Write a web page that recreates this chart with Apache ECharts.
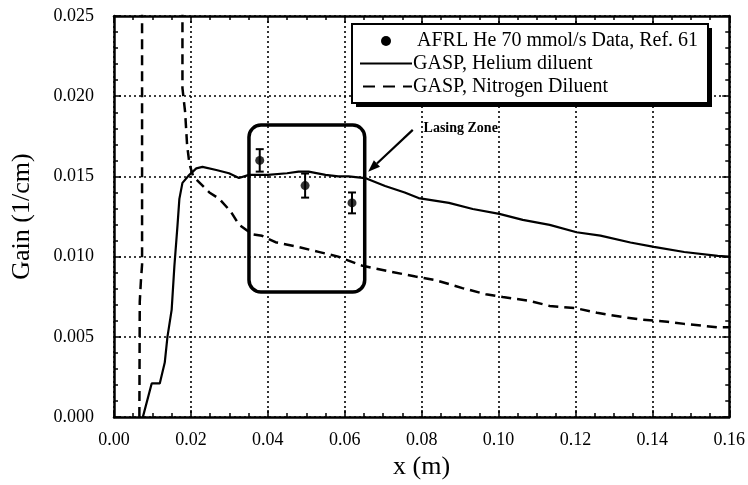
<!DOCTYPE html>
<html><head><meta charset="utf-8">
<script src="https://cdn.jsdelivr.net/npm/echarts@6/dist/echarts.min.js"></script>
<style>html,body{margin:0;padding:0;background:#fff}#c{width:748px;height:485px}</style>
</head><body><div id="c"></div>
<script>
// ---- data ----
const heliumX = [0.0075,0.0098,0.0119,0.0132,0.0139,0.0150,0.0157,0.0165,0.0170,0.0178,0.0196,0.0214,0.0230,0.0266,0.0299,0.0325,0.0351,0.0400,0.0450,0.0480,0.0506,0.0550,0.0583,0.0610,0.0653,0.0705,0.0756,0.0792,0.0871,0.0933,0.1002,0.1063,0.1133,0.1203,0.1265,0.1343,0.1404,0.1483,0.1570,0.1600];
const heliumY = [0.0000,0.0021,0.0021,0.0034,0.0050,0.0067,0.0094,0.0119,0.0136,0.0146,0.0151,0.0155,0.0156,0.0154,0.0152,0.0149,0.0151,0.0151,0.0152,0.0153,0.0153,0.0151,0.0150,0.0150,0.0149,0.0144,0.0140,0.01365,0.01335,0.01297,0.01267,0.01229,0.01198,0.01152,0.01131,0.01088,0.01061,0.01029,0.01005,0.0100];
const nitrogenX = [0.0066,0.0067,0.0070,0.0073,0.0073,0.0178,0.0178,0.0185,0.0190,0.0196,0.0206,0.0248,0.0274,0.0304,0.0325,0.0359,0.0385,0.0420,0.0480,0.0532,0.0583,0.0644,0.0714,0.0784,0.0836,0.0906,0.0967,0.1011,0.1081,0.1133,0.1203,0.1256,0.1326,0.1369,0.1439,0.1483,0.1570,0.1600];
const nitrogenY = [0.0000,0.0072,0.0085,0.0095,0.0270,0.0270,0.0205,0.0190,0.0170,0.0158,0.0150,0.0140,0.0136,0.0128,0.0120,0.0114,0.0113,0.0109,0.0106,0.0103,0.0100,0.00945,0.00909,0.00876,0.00854,0.00804,0.00766,0.00749,0.00724,0.00693,0.00678,0.0065,0.00623,0.00608,0.00594,0.00581,0.0056,0.0056];
const afrlX = [0.0379,0.0497,0.0619];
const afrlY = [0.0160,0.01443,0.01335];
const afrlErr = [0.0007,0.00075,0.00065];
const xTicks = [0,0.02,0.04,0.06,0.08,0.10,0.12,0.14,0.16];
const yTicks = [0,0.005,0.010,0.015,0.020,0.025];
// annotation (data coords): lasing box [x0,yTop,x1,yBottom], arrow tail/tip, label anchor
const lasingBox = [0.0351,0.0182,0.0652,0.0078];
const arrowTail = [0.0777,0.0179];
const arrowTip = [0.0661,0.0153];
const lasingLabelAt = [0.0805,0.0180];
const names = ['AFRL He 70 mmol/s Data, Ref. 61','GASP, Helium diluent','GASP, Nitrogen Diluent'];

const zip = (a,b)=>a.map((v,i)=>[v,b[i]]);
const FONT = '"Liberation Serif","Times New Roman",serif';
const chart = echarts.init(document.getElementById('c'));

const axisCommon = (isX, show, pos) => ({
  type:'value', position:pos,
  min: isX? xTicks[0] : yTicks[0],
  max: isX? xTicks[xTicks.length-1] : yTicks[yTicks.length-1],
  interval: isX? 0.02 : 0.005,
  axisLine:{show:true,onZero:false,lineStyle:{color:'#000',width:2.5}},
  axisTick:{show:true,inside:true,length:7,lineStyle:{color:'#000',width:1.5}},
  minorTick:{show:true,splitNumber:isX?4:5,length:4,lineStyle:{color:'#000',width:1.5}},
  splitLine:{show:show,lineStyle:{color:'#000',type:[2,3],width:1.6}},
  axisLabel:{show:show,color:'#000',fontFamily:FONT,fontSize:18,margin:isX?14:20,
    formatter:v=> isX? v.toFixed(2) : v.toFixed(3)}
});

const xMain = Object.assign(axisCommon(true,true,'bottom'),{name:'x (m)',nameLocation:'middle',nameGap:34,
  nameTextStyle:{color:'#000',fontFamily:FONT,fontSize:26}});
const yMain = Object.assign(axisCommon(false,true,'left'),{name:'Gain (1/cm)',nameLocation:'middle',nameGap:79,
  nameTextStyle:{color:'#000',fontFamily:FONT,fontSize:26}});

chart.setOption({
  animation:false,
  backgroundColor:'#fff',
  grid:{left:114,right:14,top:16,bottom:67},
  xAxis:[xMain, axisCommon(true,false,'top')],
  yAxis:[yMain, axisCommon(false,false,'right')],
  series:[
    {name:names[0],type:'scatter',data:zip(afrlX,afrlY),symbol:'circle',symbolSize:9,
      itemStyle:{color:'#000'},z:5},
    {name:names[1],type:'line',data:zip(heliumX,heliumY),showSymbol:false,symbol:'none',
      lineStyle:{color:'#000',width:2.2},itemStyle:{color:'#000'},z:3},
    {name:names[2],type:'line',data:zip(nitrogenX,nitrogenY),showSymbol:false,symbol:'none',
      lineStyle:{color:'#000',width:2.5,type:[10,6]},itemStyle:{color:'#000'},z:3},
    {name:'err',type:'custom',z:4,
      data:afrlX.map((x,i)=>[x,afrlY[i]-afrlErr[i],afrlY[i]+afrlErr[i]]),
      renderItem:(params,api)=>{
        const lo=api.coord([api.value(0),api.value(1)]);
        const hi=api.coord([api.value(0),api.value(2)]);
        const w=4;
        const st={stroke:'#000',lineWidth:2};
        return {type:'group',children:[
          {type:'line',shape:{x1:lo[0],y1:lo[1],x2:hi[0],y2:hi[1]},style:st},
          {type:'line',shape:{x1:lo[0]-w,y1:lo[1],x2:lo[0]+w,y2:lo[1]},style:st},
          {type:'line',shape:{x1:hi[0]-w,y1:hi[1],x2:hi[0]+w,y2:hi[1]},style:st}
        ]};
      }}
  ]
});

function drawAnnotations(){
  const p0 = chart.convertToPixel({gridIndex:0},[lasingBox[0],lasingBox[1]]);
  const p1 = chart.convertToPixel({gridIndex:0},[lasingBox[2],lasingBox[3]]);
  const t = chart.convertToPixel({gridIndex:0},arrowTail);
  const h = chart.convertToPixel({gridIndex:0},arrowTip);
  const l = chart.convertToPixel({gridIndex:0},lasingLabelAt);
  const ang = Math.atan2(h[1]-t[1],h[0]-t[0]);
  const L=12, W=4.5;
  const bx=h[0]-L*Math.cos(ang), by=h[1]-L*Math.sin(ang);
  const nx=-Math.sin(ang), ny=Math.cos(ang);
  // legend box (positioned like the original legend)
  const LX=352, LY=24, LW=356, LH=79;
  const rows=[41,63.5,86.5];
  const g=[
    {type:'rect',z:10,shape:{x:p0[0],y:p0[1],width:p1[0]-p0[0],height:p1[1]-p0[1],r:12},
      style:{fill:null,stroke:'#000',lineWidth:3.5}},
    {type:'line',z:10,shape:{x1:t[0],y1:t[1],x2:bx,y2:by},style:{stroke:'#000',lineWidth:2.2}},
    {type:'polygon',z:10,shape:{points:[[h[0],h[1]],[bx+nx*W,by+ny*W],[bx-nx*W,by-ny*W]]},style:{fill:'#000'}},
    {type:'text',z:10,x:l[0],y:l[1],style:{text:'Lasing Zone',fill:'#000',font:'bold 14px '+FONT,
      verticalAlign:'middle'}},
    {type:'rect',z:20,shape:{x:LX+4,y:LY+4,width:LW,height:LH},style:{fill:'#000'}},
    {type:'rect',z:21,shape:{x:LX,y:LY,width:LW,height:LH},style:{fill:'#fff',stroke:'#000',lineWidth:2}},
    {type:'circle',z:22,shape:{cx:386,cy:rows[0],r:5},style:{fill:'#000'}},
    {type:'line',z:22,shape:{x1:360,y1:rows[1],x2:412,y2:rows[1]},style:{stroke:'#000',lineWidth:2}},
    {type:'line',z:22,shape:{x1:363,y1:rows[2],x2:412,y2:rows[2]},style:{stroke:'#000',lineWidth:2,lineDash:[12,8]}},
    {type:'text',z:22,x:417,y:rows[0],style:{text:names[0],fill:'#000',font:'20px '+FONT,verticalAlign:'middle'}},
    {type:'text',z:22,x:413,y:rows[1],style:{text:names[1],fill:'#000',font:'20px '+FONT,verticalAlign:'middle'}},
    {type:'text',z:22,x:413,y:rows[2],style:{text:names[2],fill:'#000',font:'20px '+FONT,verticalAlign:'middle'}}
  ];
  chart.setOption({graphic:g});
}
drawAnnotations();
</script></body></html>
